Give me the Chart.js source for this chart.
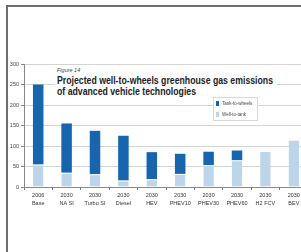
<!DOCTYPE html>
<html>
<head>
<meta charset="utf-8">
<script src="https://cdn.jsdelivr.net/npm/chart.js@4/dist/chart.umd.min.js"></script>
<style>
  html, body { margin: 0; padding: 0; background: #fff; overflow: hidden; width: 301px; height: 252px; }
  #wrap { position: relative; width: 301px; height: 252px; overflow: hidden; }
  canvas { position: absolute; left: 0; top: 0; }
  #frame { position: absolute; left: 6px; top: 5px; width: 300px; height: 260px;
           border-top: 2px solid #6e6e6e; border-left: 2px solid #6e6e6e; }
  #title { position: absolute; left: 55px; top: 66px; width: 222px; height: 34px; background: #fff;
           font-family: "Liberation Sans", Arial, sans-serif; color: #222; }
  #title .fig { position: absolute; left: 2px; top: 1px; font-size: 5.5px; font-style: italic; color: #444; }
  #title .head { position: absolute; left: 2px; top: 9px; font-size: 10.5px; font-weight: bold; line-height: 11px;
                 white-space: nowrap; transform-origin: 0 0; }
  #legend { position: absolute; left: 213px; top: 97px; width: 43px; height: 22px; background: #fff;
            border: 1px solid #d8d8d8; font-family: "Liberation Sans", Arial, sans-serif; font-size: 4.5px; color: #444; }
  #legend div { position: absolute; left: 2px; white-space: nowrap; line-height: 6px; }
  #legend span { display: inline-block; width: 3px; height: 5px; margin-right: 3px; vertical-align: -1px; }
</style>
</head>
<body>
<div id="wrap">
  <canvas id="chart" width="308" height="252"></canvas>
  <div id="title">
    <div class="fig">Figure 14</div>
    <div class="head" id="head">Projected well-to-wheels greenhouse gas emissions<br>of advanced vehicle technologies</div>
  </div>
  <div id="legend"></div>
  <div id="frame"></div>
</div>
<script>
// Kategóriák és értékek
var categories = [["2006", "Base"], ["2030", "NA SI"], ["2030", "Turbo SI"], ["2030", "Diesel"], ["2030", "HEV"],
                  ["2030", "PHEV10"], ["2030", "PHEV30"], ["2030", "PHEV60"], ["2030", "H2 FCV"], ["2030", "BEV"]];
var wellToTank = [55, 35, 31, 16, 19, 32, 53, 65, 88, 115];
var tankToWheels = [195, 120, 106, 109, 66, 49, 33, 24, 0, 0];
var yTicks = [0, 50, 100, 150, 200, 250, 300];

var tickFont = { family: "Liberation Sans", size: 5.5, lineHeight: 1.5 };

var chart = new Chart("chart", {
    type: "bar",
    data: {
        labels: categories,
        datasets: [{
            label: "Well-to-tank",
            data: wellToTank,
            backgroundColor: "#bcd5ea",
            borderColor: "#ffffff",
            borderWidth: { top: 1, left: 0, right: 0, bottom: 0 },
            borderSkipped: false,
            barPercentage: 0.37,
            categoryPercentage: 1
        }, {
            label: "Tank-to-wheels",
            data: tankToWheels,
            backgroundColor: "#1665b1",
            borderWidth: 0,
            barPercentage: 0.37,
            categoryPercentage: 1
        }]
    },
    options: {
        responsive: false,
        animation: false,
        layout: { padding: { top: 64, left: 0, right: 0, bottom: 0 } },
        plugins: { legend: { display: false }, tooltip: { enabled: false } },
        scales: {
            x: {
                stacked: true,
                afterFit: function(s) { s.height = 65; },
                grid: { drawOnChartArea: false, tickLength: 3, color: "#777", offset: true },
                border: { color: "#888" },
                ticks: { font: tickFont, color: "#333", padding: 1, maxRotation: 0, autoSkip: false }
            },
            y: {
                stacked: true,
                min: 0,
                max: 300,
                afterFit: function(s) { s.width = 24; },
                afterBuildTicks: function(s) { s.ticks = yTicks.map(function(v) { return { value: v }; }); },
                grid: { color: "#d4d4d4", tickLength: 3, tickColor: "#888" },
                border: { color: "#888" },
                ticks: { font: { family: "Liberation Sans", size: 5.5 }, color: "#444", padding: 2 }
            }
        }
    }
});

// Cím szélessége a referenciához igazítva
var head = document.getElementById("head");
var w = head.getBoundingClientRect().width;
head.style.transform = "scaleX(" + (216 / w) + ")";

// Jelmagyarázat a datasetekből
var legend = document.getElementById("legend");
chart.data.datasets.slice().reverse().forEach(function(ds, i) {
    var row = document.createElement("div");
    row.style.top = (3 + i * 11) + "px";
    row.innerHTML = '<span style="background:' + ds.backgroundColor + '"></span>' + ds.label;
    legend.appendChild(row);
});
</script>
</body>
</html>
